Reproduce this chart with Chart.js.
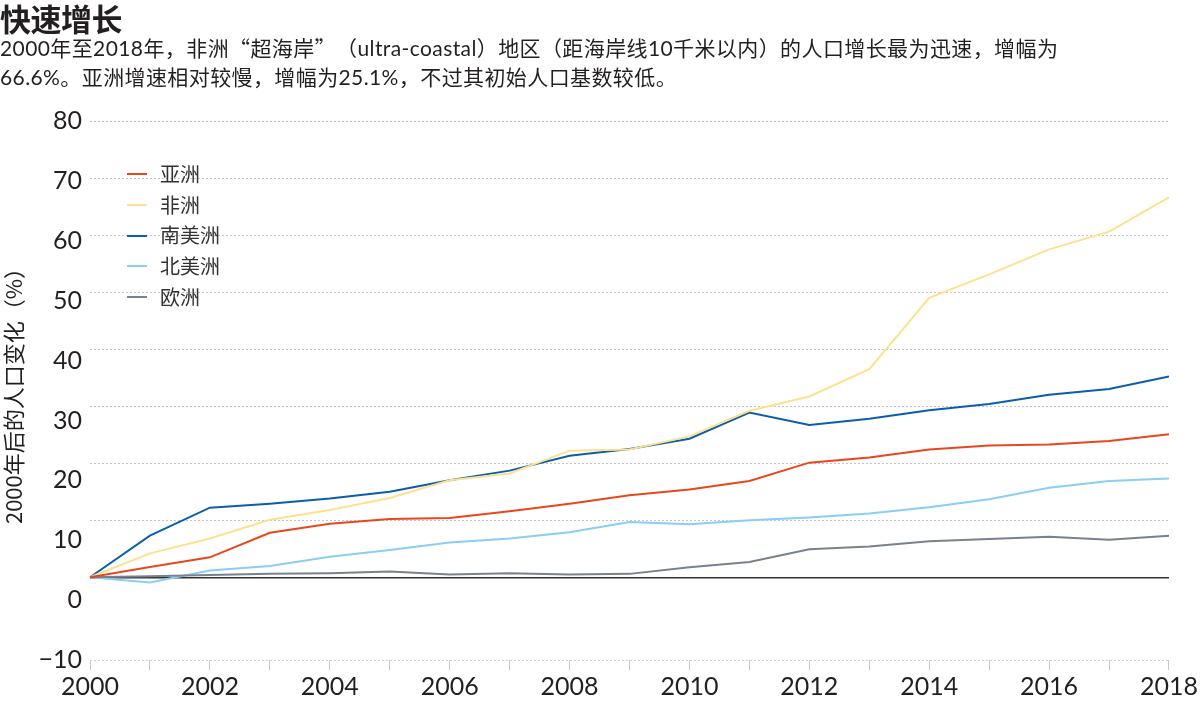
<!DOCTYPE html>
<html lang="zh">
<head>
<meta charset="utf-8">
<title>快速增长</title>
<script src="https://cdn.jsdelivr.net/npm/chart.js@4/dist/chart.umd.min.js"></script>
<style>
  html, body { margin: 0; padding: 0; background: #fff; }
  body { width: 1200px; height: 704px; position: relative; overflow: hidden;
         font-family: Lato, "Noto Sans CJK SC", sans-serif; color: #231f20; }
  #chart { position: absolute; left: 0; top: 0; }
  .title { position: absolute; left: 0; top: 0; font-family: "Noto Sans CJK SC", sans-serif;
           font-weight: 700; font-size: 31px; line-height: 36px; letter-spacing: -0.5px; }
  .subtitle { position: absolute; left: 0; top: 33px; font-size: 21px; line-height: 29px;
              letter-spacing: 0.4px; text-spacing-trim: space-all; white-space: nowrap; }
  .cjk { font-family: "Noto Sans CJK SC", sans-serif; }
  #legend { position: absolute; left: 127px; top: 159px; font-family: "Noto Sans CJK SC", sans-serif;
            font-size: 20px; line-height: 30.7px; color: #333; }
  #legend .item { display: flex; align-items: center; }
  #legend .swatch { width: 20px; height: 2px; margin-right: 13px; }
</style>
</head>
<body>
<canvas id="chart" width="1200" height="704"></canvas>
<div class="title">快速增长</div>
<div class="subtitle">2000年至2018年，非洲<span class="cjk">“</span>超海岸<span class="cjk">”</span>（ultra-coastal）地区（距海岸线10千米以内）的人口增长最为迅速，增幅为<br>66.6%。亚洲增速相对较慢，增幅为25.1%，不过其初始人口基数较低。</div>
<div id="legend"></div>

<script>
// Data
const years = ['2000', '2001', '2002', '2003', '2004', '2005', '2006', '2007', '2008', '2009',
               '2010', '2011', '2012', '2013', '2014', '2015', '2016', '2017', '2018'];

const asia         = [0, 1.8, 3.5, 7.8, 9.4, 10.2, 10.4, 11.6, 12.9, 14.4, 15.4, 16.9, 20.1, 21.0, 22.4, 23.1, 23.3, 23.9, 25.1];
const africa       = [0, 4.2, 6.8, 10.1, 11.8, 13.9, 17.0, 18.2, 22.2, 22.4, 24.7, 29.2, 31.7, 36.5, 49.0, 53.1, 57.5, 60.6, 66.6];
const southAmerica = [0, 7.3, 12.2, 12.9, 13.8, 15.0, 17.0, 18.7, 21.3, 22.5, 24.3, 28.9, 26.7, 27.8, 29.3, 30.4, 32.0, 33.0, 35.2];
const northAmerica = [0, -0.9, 1.2, 2.0, 3.6, 4.8, 6.1, 6.8, 7.9, 9.7, 9.3, 10.0, 10.5, 11.2, 12.3, 13.7, 15.7, 16.9, 17.3];
const europe       = [0, 0.2, 0.4, 0.6, 0.7, 1.0, 0.5, 0.7, 0.5, 0.6, 1.75, 2.7, 4.9, 5.4, 6.3, 6.7, 7.1, 6.6, 7.3];

const seriesNames = ['亚洲', '非洲', '南美洲', '北美洲', '欧洲'];

// y tick labels (label axis) and grid lines (data axis)
const yLabelTicks = [-10, 0, 10, 20, 30, 40, 50, 60, 70, 80];
const yGridTicks = [0, 10, 20, 30, 40, 50, 60, 70, 80];
const yDataMin = -14.5;
const yDataMax = 80;

const colors = ['#e8471c', '#fde18f', '#0b5ead', '#8bcdf3', '#78818f'];
const drawOrder = [1, 2, 3, 5, 4];

// Chart setup
const ctx = document.getElementById('chart');
const seriesValues = [asia, africa, southAmerica, northAmerica, europe];

const datasets = seriesNames.map((name, i) => ({
  label: name,
  data: seriesValues[i],
  borderColor: colors[i],
  backgroundColor: colors[i],
  borderWidth: 2,
  pointRadius: 0,
  tension: 0,
  fill: false,
  order: drawOrder[i],
  yAxisID: 'y'
}));

const tickFont = { family: 'Lato, "Noto Sans CJK SC", sans-serif', size: 25 };

new Chart(ctx, {
  type: 'line',
  data: { labels: years, datasets: datasets },
  options: {
    responsive: false,
    animation: false,
    layout: { padding: { top: 121, right: 28, bottom: 0, left: 0 } },
    plugins: {
      legend: { display: false },
      tooltip: { enabled: false }
    },
    scales: {
      x: {
        type: 'category',
        offset: false,
        grid: {
          display: true,
          drawOnChartArea: false,
          drawTicks: true,
          tickLength: 10,
          tickColor: '#c8c8c8',
          offset: false
        },
        border: { display: false },
        ticks: {
          autoSkip: false,
          maxRotation: 0,
          padding: 2,
          color: '#231f20',
          font: tickFont,
          callback: function(value, index) {
            return index % 2 === 0 ? years[index] : '';
          }
        }
      },
      // axis that only shows the tick labels and the title
      yLabels: {
        position: 'left',
        min: -10,
        max: 80,
        afterBuildTicks: scale => { scale.ticks = yLabelTicks.map(v => ({ value: v })); },
        afterFit: scale => { scale.width = 90; },
        grid: { display: false, drawTicks: false },
        border: { display: false },
        ticks: {
          padding: 8,
          color: '#231f20',
          font: tickFont,
          callback: v => v < 0 ? '\u2212' + Math.abs(v) : String(v)
        },
        title: {
          display: true,
          text: '2000年后的人口变化（%）',
          color: '#231f20',
          padding: { top: 0, bottom: 0 },
          font: { family: '"Noto Sans CJK SC", sans-serif', size: 22 }
        }
      },
      // axis the lines are drawn against
      y: {
        position: 'right',
        min: yDataMin,
        max: yDataMax,
        afterBuildTicks: scale => {
          scale.ticks = [yDataMin].concat(yGridTicks).map(v => ({ value: v }));
        },
        afterFit: scale => { scale.width = 0; },
        ticks: { display: false },
        grid: {
          drawTicks: false,
          lineWidth: c => (c.tick && c.tick.value === 0) ? 1.5 : 1,
          color: c => {
            if (!c.tick) return '#c4c4c4';
            if (c.tick.value === 0) return '#333';
            if (c.tick.value === yDataMin) return '#d0d0d0';
            return '#c4c4c4';
          }
        },
        border: {
          display: false,
          dash: c => (c.tick && c.tick.value === 0) ? [] : [2, 2]
        }
      }
    }
  }
});

// HTML legend
const legendBox = document.getElementById('legend');
seriesNames.forEach((name, i) => {
  const item = document.createElement('div');
  item.className = 'item';
  const sw = document.createElement('span');
  sw.className = 'swatch';
  sw.style.background = colors[i];
  const txt = document.createElement('span');
  txt.textContent = name;
  item.appendChild(sw);
  item.appendChild(txt);
  legendBox.appendChild(item);
});
</script>
</body>
</html>
